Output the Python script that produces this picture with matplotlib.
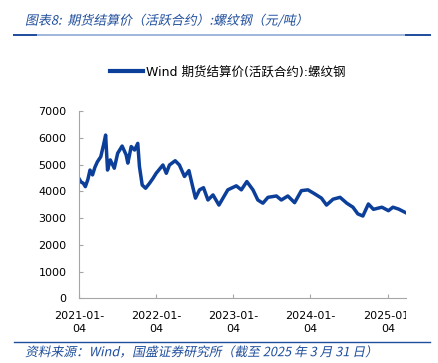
import numpy as np
import pandas as pd
import matplotlib
matplotlib.use("Agg")
import matplotlib.pyplot as plt
import matplotlib.patheffects as pe
from matplotlib.transforms import Affine2D, Bbox, TransformedBbox

# ── Data ───────────────────────────────────────────────────────────────

dates = [
    "2021-01-04", "2021-01-14", "2021-01-24", "2021-02-03", "2021-02-15", "2021-02-25", "2021-03-09",
    "2021-03-20", "2021-04-01", "2021-04-17", "2021-04-30", "2021-05-10", "2021-05-19",
    "2021-06-01", "2021-06-20", "2021-07-06", "2021-07-27", "2021-08-15",
    "2021-08-23", "2021-09-08", "2021-09-24", "2021-10-09", "2021-10-17",
    "2021-10-30", "2021-11-15", "2021-12-04", "2021-12-20", "2022-01-04",
    "2022-02-05", "2022-02-21", "2022-03-08", "2022-04-04", "2022-04-24",
    "2022-05-18", "2022-06-08", "2022-06-24", "2022-07-09", "2022-07-28",
    "2022-08-16", "2022-09-06", "2022-09-30", "2022-10-28", "2022-12-09",
    "2023-01-18", "2023-02-11", "2023-03-09", "2023-04-07", "2023-04-30",
    "2023-05-24", "2023-06-17", "2023-07-27", "2023-08-19", "2023-09-19",
    "2023-10-21", "2023-11-22", "2023-12-23", "2024-01-24", "2024-02-25",
    "2024-03-20", "2024-04-20", "2024-05-23", "2024-06-24", "2024-07-23",
    "2024-08-15", "2024-09-08", "2024-10-04", "2024-10-28", "2024-12-07",
    "2025-01-07", "2025-01-28", "2025-02-24", "2025-03-31",
]
prices = [
    4480, 4350, 4310, 4180, 4450, 4800, 4620,
    4900, 5110, 5300, 5740, 6110, 4800,
    5180, 4870, 5430, 5700, 5370,
    5060, 5680, 5550, 5800, 4930,
    4240, 4120, 4310, 4490, 4680,
    4990, 4680, 4990, 5150, 4990,
    4560, 4780, 4240, 3750, 4060,
    4140, 3680, 3870, 3490, 4060,
    4210, 4060, 4370, 4060, 3680,
    3560, 3780, 3830, 3680, 3830,
    3580, 4030, 4060, 3910, 3750,
    3490, 3710, 3780, 3560, 3410,
    3160, 3080, 3530, 3330, 3410,
    3280, 3410, 3340, 3200,
]

tick_dates = ["2021-01-04", "2022-01-04", "2023-01-04", "2024-01-04", "2025-01-04"]
tick_labels = ["2021-01-\n04", "2022-01-\n04", "2023-01-\n04", "2024-01-\n04", "2025-01-\n04"]
y_ticks = [0, 1000, 2000, 3000, 4000, 5000, 6000, 7000]

TITLE = "图表8:  期货结算价（活跃合约）:螺纹钢（元/吨）"
SERIES = "Wind 期货结算价(活跃合约):螺纹钢"
SOURCE = "资料来源：Wind，国盛证券研究所（截至 2025 年 3 月 31 日）"

LINE_BLUE = "#0b3f99"
TEXT_BLUE = "#1f4e9c"
CJK = ["Noto Sans CJK SC", "DejaVu Sans"]
LATIN_FIRST = ["DejaVu Sans", "Noto Sans CJK SC"]


class Slant(pe.AbstractPathEffect):
    """Fake italic for CJK fonts that have no oblique face."""
    def draw_path(self, renderer, gc, tpath, affine, rgbFace=None):
        renderer.draw_path(gc, tpath, Affine2D().skew_deg(12, 0) + affine, rgbFace)


W, H = 438, 363
fig = plt.figure(figsize=(W / 100, H / 100), dpi=100)
ax = fig.add_axes([79 / W, 1 - 298.3 / H, (406 - 79) / W, (298.3 - 111.3) / H])

x = pd.to_datetime(dates)
ax.plot(x, prices, color=LINE_BLUE, linewidth=2.5, solid_joinstyle="round",
        label=SERIES)

ax.set_xlim(pd.Timestamp("2021-01-04"), pd.Timestamp("2025-03-31"))
ax.set_ylim(0, 7000)
ax.set_yticks(y_ticks)
ax.set_yticklabels([str(v) for v in y_ticks], fontsize=8, family=LATIN_FIRST)
ax.set_xticks(pd.to_datetime(tick_dates))
ax.set_xticklabels(tick_labels, fontsize=8, family=LATIN_FIRST, linespacing=1.4)

for side in ["top", "right"]:
    ax.spines[side].set_visible(False)
for side in ["left", "bottom"]:
    ax.spines[side].set_color("#a6a6a6")
    ax.spines[side].set_linewidth(0.8)
ax.tick_params(axis="y", direction="in", length=3, color="#a6a6a6", pad=9)
ax.tick_params(axis="x", direction="in", length=3, color="#a6a6a6", pad=9)

# last date label is cut at the plot's right edge in the original
clip = TransformedBbox(Bbox([[0, 0], [406 / W, 1]]), fig.transFigure)
for lbl in ax.get_xticklabels():
    lbl.set_clip_on(True)
    lbl.set_clip_box(clip)

leg = ax.legend(loc="center", bbox_to_anchor=(228 / W, 1 - 72 / H),
                bbox_transform=fig.transFigure, frameon=False,
                prop={"family": LATIN_FIRST, "size": 9},
                handlelength=2.6, handletextpad=0.25)
leg.get_lines()[0].set_linewidth(3)

# header / footer
fig.text(25 / W, 1 - 21 / H, TITLE, fontsize=9.3, color=TEXT_BLUE, family=CJK,
         va="center", ha="left", path_effects=[Slant()])
fig.add_artist(plt.Line2D([14 / W, 430 / W], [1 - 34.5 / H] * 2,
                          color="#8fa9d6", linewidth=1.2, transform=fig.transFigure))
fig.add_artist(plt.Line2D([14 / W, 36 / W], [1 - 34.5 / H] * 2,
                          color=TEXT_BLUE, linewidth=1.4, transform=fig.transFigure))
fig.add_artist(plt.Line2D([406 / W, 430 / W], [1 - 34.5 / H] * 2,
                          color=TEXT_BLUE, linewidth=1.4, transform=fig.transFigure))
fig.add_artist(plt.Line2D([14 / W, 430 / W], [1 - 342.3 / H] * 2,
                          color=TEXT_BLUE, linewidth=1.0, transform=fig.transFigure))
fig.text(25 / W, 1 - 352.7 / H, SOURCE, fontsize=9.2, color=TEXT_BLUE, family=CJK,
         va="center", ha="left", path_effects=[Slant()])

fig.savefig("out.png", dpi=100)
